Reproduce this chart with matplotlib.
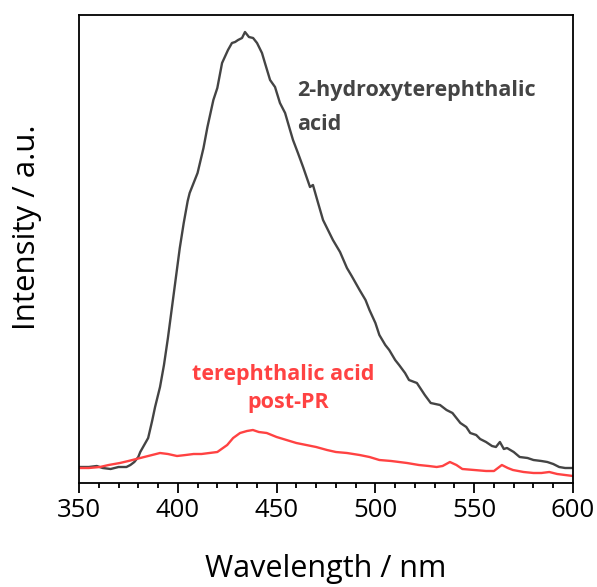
import matplotlib
matplotlib.use("Agg")
import matplotlib.pyplot as plt
from matplotlib.ticker import MultipleLocator

# Wavelength (nm) and intensity (a.u.)
wl_hta = [350, 355, 359, 362, 366, 370, 374, 376, 378, 380, 381, 383, 385, 387, 388.5,
          391, 393, 395, 397, 399, 401, 403, 405, 406, 408, 410, 413, 415, 418, 420,
          422.4, 425.4, 427.4, 429, 430.5, 432.5, 434, 436, 438.1, 440.1, 442.6, 444.1,
          446.7, 449.2, 451.7, 454.3, 456.8, 458.3, 460.8, 463.4, 466.9, 468.4, 471,
          473.5, 476, 478.5, 482.1, 485.6, 488, 490, 492, 495, 497, 500, 502, 505, 507,
          510, 512, 515, 517, 521, 525, 528, 532.7, 536, 539, 543, 546, 548, 551, 553,
          556, 559, 561, 563, 565, 566.6, 570, 573, 577, 580, 584, 587, 590, 593, 596, 600]
int_hta = [16, 16, 17, 15, 14, 16, 16, 18, 21, 26, 31, 38, 45, 62, 76,
           96, 118, 145, 175, 205, 235, 260, 282, 290, 300, 310, 335, 356, 383, 395,
           420, 433, 440, 441, 443, 445, 451, 446, 445, 440, 430, 420,
           403, 396, 380, 370, 353, 343, 330, 316, 296, 298, 280,
           263, 253, 243, 231, 215, 207, 200, 193, 183, 173, 160, 148, 138, 133,
           123, 118, 110, 103, 100, 88, 80, 78, 73, 70, 60, 56, 50, 48, 44,
           41, 37, 36, 41, 34, 35, 31, 26, 25, 23, 22, 21, 19, 16, 15, 15]

wl_ta = [350, 355, 360.6, 365, 370.7, 375, 379, 383, 387, 391, 395, 399.6, 404, 408, 412,
         416, 420, 425, 428, 431.5, 435, 438, 441, 445, 450, 455, 460, 465, 470, 475.5,
         480, 485.6, 492, 497, 502, 508, 516, 522, 527, 531, 534, 537.7, 541, 544, 550,
         556, 560, 562, 564, 567, 569.6, 575, 580, 584, 588, 592, 596, 600]
int_ta = [15, 15, 16, 18, 20, 22, 24, 26, 28, 30, 29, 27, 28, 29, 29,
          30, 31, 38, 45, 50, 52, 53, 51, 50, 46, 43, 40, 38, 36, 33,
          31, 30, 28, 26, 23, 22, 20, 18, 17, 16, 17, 21, 18, 14, 13,
          12, 12, 15, 18, 15, 13, 11, 10, 10, 11, 9, 8, 7]

xticks = [350, 400, 450, 500, 550, 600]

grey = "#444444"
red = "#ff4242"

plt.rcParams["font.family"] = ["Open Sans", "DejaVu Sans"]

W, H = 597, 587
fig = plt.figure(figsize=(W / 100, H / 100), dpi=100)
ax = fig.add_axes([79 / W, 1 - 483 / H, (573 - 79) / W, (483 - 15) / H])

ax.plot(wl_hta, int_hta, color=grey, lw=1.7)
ax.plot(wl_ta, int_ta, color=red, lw=1.7)

ax.set_xlim(350, 600)
ax.set_ylim(0, 468)
ax.set_xticks(xticks)
ax.xaxis.set_minor_locator(MultipleLocator(10))
ax.tick_params(axis="x", which="major", direction="out", length=7, width=1.3,
               labelsize=18.5, pad=4, colors="black")
ax.tick_params(axis="x", which="minor", direction="out", length=3.5, width=1.3)
ax.set_yticks([])
for s in ax.spines.values():
    s.set_linewidth(1.3)

fig.text(326 / W, 1 - 577 / H, "Wavelength / nm", ha="center", va="baseline", fontsize=22)
fig.text(27 / W, 1 - 227 / H, "Intensity / a.u.", ha="center", va="center",
         rotation=90, fontsize=22.5)

ax.text(460.3, 387, "2-hydroxyterephthalic", ha="left", va="baseline",
        fontsize=15.5, fontweight="bold", color=grey)
ax.text(460.3, 353, "acid", ha="left", va="baseline",
        fontsize=15.5, fontweight="bold", color=grey)
ax.text(453.2, 103, "terephthalic acid", ha="center", va="baseline",
        fontsize=15.5, fontweight="bold", color=red)
ax.text(455.8, 75, "post-PR", ha="center", va="baseline",
        fontsize=15.5, fontweight="bold", color=red)

fig.savefig("out.png", dpi=100)
